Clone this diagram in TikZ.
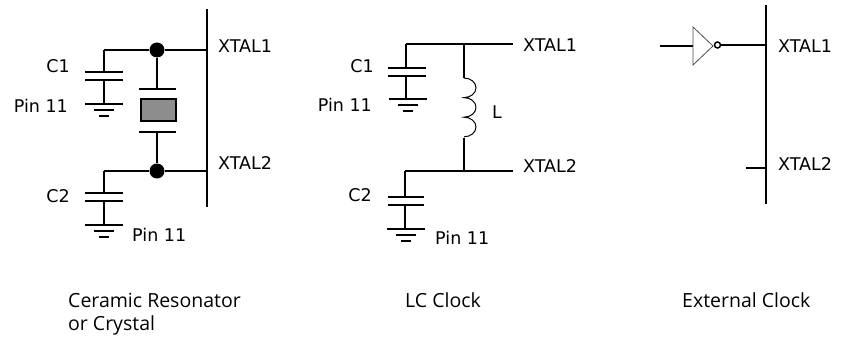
\documentclass[tikz,border=0pt]{standalone}
\usepackage{fontspec}
\setmainfont{DejaVu Sans}
\newfontfamily\capfont{Open Sans}
\begin{document}
\begin{tikzpicture}[x=1pt,y=-1pt,
  wire/.style={line width=2pt},
  thinwire/.style={line width=1pt},
  lbl/.style={inner sep=0pt,font=\fontsize{17.5}{20}\selectfont},
  captxt/.style={inner sep=0pt,font=\capfont\fontsize{19.5}{22}\selectfont},
  dotj/.style={circle,fill=black,inner sep=0pt,minimum size=15pt}]
\useasboundingbox (0,0) rectangle (841,339);
% ---------- helpers ----------
\newcommand{\capac}[3]{% x, y top plate, half-width
  \draw[wire] (#1-#3,#2) -- (#1+#3,#2);
  \draw[wire] (#1-#3,#2+8) -- (#1+#3,#2+8);}
\newcommand{\gnd}[2]{% x, y
  \draw[wire] (#1-19,#2) -- (#1+19,#2);
  \draw[wire] (#1-10,#2+6) -- (#1+10,#2+6);
  \draw[wire] (#1-5,#2+12) -- (#1+5,#2+12);}
% ================= Panel 1 =================
\coordinate (b1t) at (207,9);
\coordinate (b1b) at (207,207);
\draw[wire] (b1t) -- (b1b);
\coordinate (p1x1) at (207,50);
\coordinate (p1x2) at (207,171);
\node[dotj] (d1) at (157,50) {};
\node[dotj] (d2) at (157,171) {};
\coordinate (c1top) at (104,50);
\coordinate (c2top) at (104,171);
\draw[wire] (c1top) -- (d1) -- (p1x1);
\draw[wire] (c2top) -- (d2) -- (p1x2);
% C1
\draw[wire] (c1top) -- (104,72);
\capac{104}{72}{19}
\draw[wire] (104,80) -- (104,104);
\gnd{104}{104}
% C2
\draw[wire] (c2top) -- (104,193);
\capac{104}{193}{19}
\draw[wire] (104,201) -- (104,225);
\gnd{104}{225}
% crystal
\draw[wire] (d1) -- (157,89);
\draw[wire] (139,89) -- (176,89);
\node[draw,line width=2pt,fill=gray!95!black!85,minimum width=35pt,minimum height=22pt,inner sep=0pt] (xt) at (158,110.5) {};
\draw[wire] (139,132) -- (176,132);
\draw[wire] (157,132) -- (d2);
% labels
\node[lbl,anchor=base west] (l1a) at (218,53) {XTAL1};
\node[lbl,anchor=base west] (l1b) at (218,170) {XTAL2};
\node[lbl,anchor=base east] (l1c) at (70,73) {C1};
\node[lbl,anchor=base east] (l1d) at (68,113) {Pin 11};
\node[lbl,anchor=base east] (l1e) at (70,203) {C2};
\node[lbl,anchor=base west] (l1f) at (132,242) {Pin 11};
% ================= Panel 2 =================
\coordinate (p2a) at (406,44);
\coordinate (p2b) at (513,44);
\coordinate (p2c) at (405,171);
\coordinate (p2d) at (513,171);
\coordinate (Ltop) at (464,44);
\coordinate (Lbot) at (464,171);
\draw[wire] (p2a) -- (p2b);
\draw[wire] (p2c) -- (p2d);
% C1
\draw[wire] (p2a) -- (406,68);
\capac{407}{68}{19}
\draw[wire] (406,76) -- (406,99);
\gnd{408}{99}
% C2
\draw[wire] (p2c) -- (405,197);
\capac{406}{197}{18}
\draw[wire] (405,205) -- (405,229);
\gnd{406}{229}
% inductor
\draw[wire] (Ltop) -- (464,78);
\draw[thinwire] (464,78) arc[start angle=-90,end angle=90,x radius=12,y radius=9.8]
  arc[start angle=-90,end angle=90,x radius=12,y radius=9.8]
  arc[start angle=-90,end angle=90,x radius=12,y radius=9.8];
\draw[wire] (464,138) -- (Lbot);
% labels
\node[lbl,anchor=base west] (l2a) at (523,52) {XTAL1};
\node[lbl,anchor=base west] (l2b) at (523,173) {XTAL2};
\node[lbl,anchor=base east] (l2c) at (374,73) {C1};
\node[lbl,anchor=base east] (l2d) at (372,112) {Pin 11};
\node[lbl,anchor=base west] (l2e) at (492,119) {L};
\node[lbl,anchor=base east] (l2f) at (372,202) {C2};
\node[lbl,anchor=base west] (l2g) at (435,244) {Pin 11};
% ================= Panel 3 =================
\coordinate (b3t) at (766,5);
\coordinate (b3b) at (766,204);
\draw[wire] (b3t) -- (b3b);
\coordinate (inv0) at (660,46);
\coordinate (invL) at (693,46);
\draw[line width=1.6pt] (inv0) -- (invL);
\draw[line width=0.8pt,draw=black!70] (693,27) -- (713,46) -- (693,65) -- cycle;
\node[circle,draw,line width=1.5pt,inner sep=0pt,minimum size=6pt] (bub) at (717.5,45) {};
\coordinate (p3x1) at (766,45);
\draw[line width=1.6pt] (bub.east) -- (p3x1);
\coordinate (stub) at (746,168);
\coordinate (p3x2) at (766,168);
\draw[wire] (stub) -- (p3x2);
\node[lbl,anchor=base west] (l3a) at (778,53) {XTAL1};
\node[lbl,anchor=base west] (l3b) at (778,171) {XTAL2};
% ================= Captions =================
\node[captxt,anchor=base west] (cp1) at (68,308) {Ceramic Resonator};
\node[captxt,anchor=base west] (cp2) at (68,330) {or Crystal};
\node[captxt,anchor=base west] (cp3) at (405,308) {LC Clock};
\node[captxt,anchor=base west] (cp4) at (682,308) {External Clock};
\end{tikzpicture}
\end{document}
